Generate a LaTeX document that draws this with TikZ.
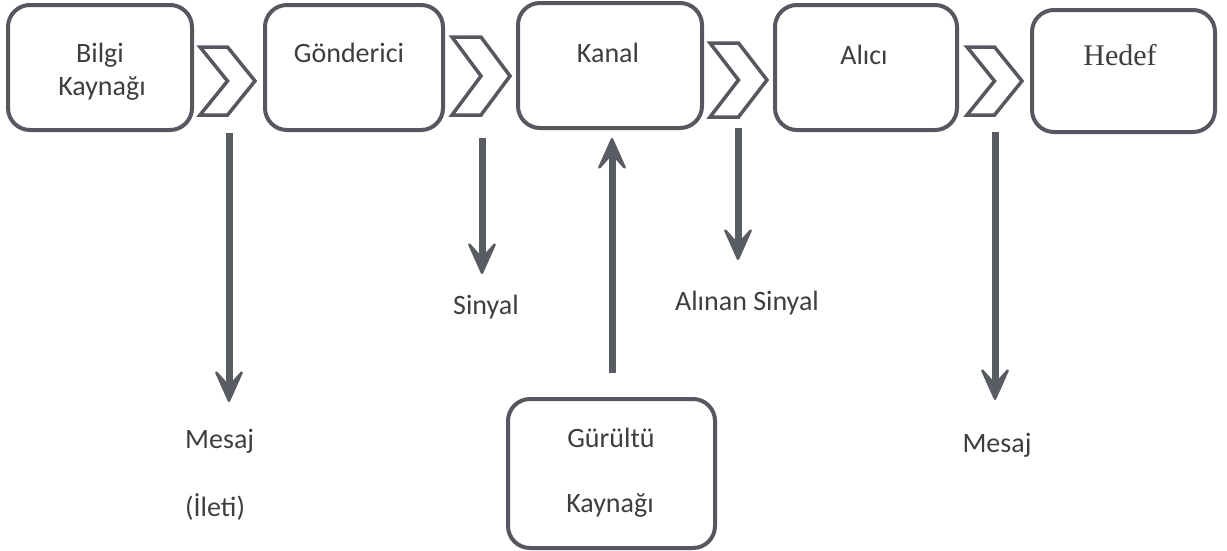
\documentclass[tikz,border=0pt]{standalone}
\usepackage{fontspec}
\setmainfont{Carlito}
\newfontfamily\hedeffont{Liberation Serif}
\usetikzlibrary{arrows.meta}
\definecolor{boxgray}{HTML}{55585F}
\definecolor{arrgray}{HTML}{5A5C64}
\definecolor{txtgray}{HTML}{3E3E40}
\tikzset{
  stepbox/.style={draw=boxgray, line width=4pt, rounded corners=22pt, fill=white, inner sep=0pt},
  lbl/.style={text=txtgray, font=\fontsize{28}{32}\selectfont, inner sep=0pt, anchor=base},
  arr/.style={draw=arrgray, line width=7pt,
    -{Stealth[length=38pt,width=34pt,inset=19pt,line width=2.5pt,round]}},
  chev/.style={draw=boxgray, line width=3.5pt, fill=white, line join=miter},
}
\newcommand\mychevron[5]{%
  \draw[chev] ({#2-#4/2},{#3-#5/2}) -- ({#2},{#3-#5/2}) -- ({#2+#4/2},{#3})
    -- ({#2},{#3+#5/2}) -- ({#2-#4/2},{#3+#5/2}) -- ({#2},{#3}) -- cycle;
  \coordinate (#1) at (#2,#3);}
\begin{document}
\begin{tikzpicture}[x=1pt,y=-1pt]
\useasboundingbox (0,0) rectangle (1227,550);
% top boxes
\node[stepbox, minimum width=184pt, minimum height=125pt] (src) at (100,67.5) {};
\node[stepbox, minimum width=178pt, minimum height=125pt] (snd) at (354,67.5) {};
\node[stepbox, minimum width=184pt, minimum height=125pt] (chn) at (610,65.5) {};
\node[stepbox, minimum width=182pt, minimum height=125pt] (rcv) at (866,67.5) {};
\node[stepbox, minimum width=183pt, minimum height=122pt] (dst) at (1123.5,71) {};
\node[stepbox, minimum width=207pt, minimum height=149pt] (noise) at (611.5,473.5) {};
% box texts
\node[lbl] (t1a) at (100,62) {Bilgi};
\node[lbl] (t1b) at (102,95) {Kaynağı};
\node[lbl] (t2) at (349,62) {Gönderici};
\node[lbl] (t3) at (608,62) {Kanal};
\node[lbl] (t4) at (864,64) {Alıcı};
\node[lbl, font=\hedeffont\fontsize{30}{34}\selectfont] (t5) at (1120,65) {Hedef};
\node[lbl] (t6a) at (611,447) {Gürültü};
\node[lbl] (t6b) at (610,512) {Kaynağı};
% chevrons
\mychevron{ch1}{227.5}{81}{55}{68}
\mychevron{ch2}{481}{76}{58}{78}
\mychevron{ch3}{738.5}{80}{57}{74}
\mychevron{ch4}{994.5}{81}{55}{68}
% labels under arrows
\node[lbl, anchor=base west] (msg1) at (185,448) {Mesaj};
\node[lbl, anchor=base west] (ileti) at (185,516) {(İleti)};
\node[lbl] (sig) at (486,314) {Sinyal};
\node[lbl] (rsig) at (747,310) {Alınan Sinyal};
\node[lbl] (msg2) at (997,452) {Mesaj};
% arrow end points
\coordinate (a1s) at (229,133); \coordinate (a1e) at (229,402);
\coordinate (a2s) at (482,138); \coordinate (a2e) at (482,274);
\coordinate (a3e) at (612,138);
\coordinate (a4s) at (738,128); \coordinate (a4e) at (738,260);
\coordinate (a5s) at (995,132); \coordinate (a5e) at (995,400);
% arrows
\draw[arr] (a1s) -- (a1e);
\draw[arr] (a2s) -- (a2e);
\draw[arr] ([yshift=24pt]noise.north -| a3e) -- (a3e);
\draw[arr] (a4s) -- (a4e);
\draw[arr] (a5s) -- (a5e);
\end{tikzpicture}
\end{document}
